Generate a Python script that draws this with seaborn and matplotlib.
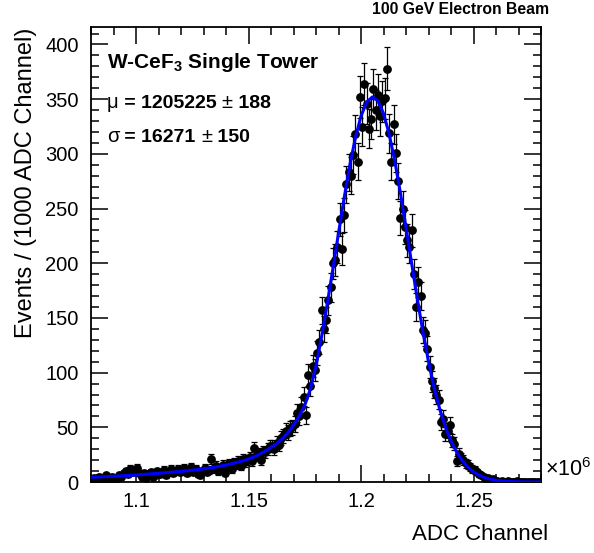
import numpy as np
import pandas as pd
import matplotlib
matplotlib.use("Agg")
import matplotlib.pyplot as plt
from matplotlib.ticker import MultipleLocator, FuncFormatter
import seaborn as sns

# ---------------- data ----------------
bin_lo = 1.080e6
bin_width = 1000.0
counts = [
    3, 4, 2, 5, 4, 3, 6, 4, 3, 5, 2, 4, 6, 5, 8, 10, 7, 12, 9, 11,
    13, 8, 5, 8, 4, 7, 9, 5, 6, 10, 7, 8, 11, 6, 9, 12, 8, 10, 12, 9,
    10, 13, 8, 11, 14, 9, 12, 7, 6, 10, 13, 9, 11, 21, 12, 15, 10, 13, 16, 8,
    14, 17, 12, 18, 16, 19, 15, 21, 18, 20, 23, 19, 31, 24, 26, 20, 28, 27, 30, 33,
    33, 30, 36, 34, 40, 42, 47, 45, 49, 50, 53, 63, 60, 69, 78, 61, 98, 88, 106, 102,
    118, 128, 157, 140, 148, 166, 178, 200, 203, 215, 240, 213, 244, 272, 283, 280, 299, 318, 293, 352,
    325, 364, 346, 323, 332, 359, 340, 354, 335, 348, 351, 378, 319, 293, 327, 301, 275, 241, 250, 233,
    221, 215, 230, 190, 160, 183, 170, 139, 136, 122, 105, 92, 86, 80, 75, 55, 58, 44, 47, 52,
    38, 35, 19, 26, 22, 20, 17, 16, 14, 12, 11, 9, 7, 6, 5, 3, 4, 2, 3, 1,
    1, 0, 1, 0, 0, 1, 0, 0, 0, 1, 0, 0, 0, 0, 0, 0, 0, 0, 0, 0,
]

fit_x_m = [1.0800 + 0.0025 * k for k in range(81)]  # in units of 1e6
fit_y = [
    4.3, 4.5, 4.8, 5.0, 5.3, 5.5, 5.8, 6.1, 6.4, 6.8,
    7.2, 7.6, 8.0, 8.4, 8.8, 9.2, 9.7, 10.2, 10.8, 11.4,
    12.0, 12.8, 13.6, 14.5, 15.5, 16.7, 18.0, 19.4, 21.0, 23.0,
    25.5, 28.3, 31.5, 35.0, 39.5, 45.0, 52.0, 60.0, 70.0, 85.0,
    106.0, 133.0, 162.9, 194.8, 227.5, 259.6, 289.2, 314.7, 334.5, 347.2,
    352.0, 348.5, 337.0, 318.3, 293.6, 264.5, 232.7, 200.0, 167.9, 137.6,
    110.2, 86.1, 66.5, 50.5, 37.5, 27.5, 19.5, 13.5, 9.2, 6.2,
    4.0, 2.6, 1.6, 1.0, 0.6, 0.35, 0.2, 0.12, 0.07, 0.04, 0.02,
]

title_right = "100 GeV Electron Beam"
label_tower = "W-CeF$_\\mathbf{3}$ Single Tower"
label_mu = ["\u03bc", " = 1205225 ", "\u00b1", " 188"]
label_sigma = ["\u03c3", " = 16271 ", "\u00b1", " 150"]
x_label = "ADC Channel"
y_label = "Events / (1000 ADC Channel)"

# ---------------- build frames ----------------
centers = bin_lo + bin_width * (np.arange(len(counts)) + 0.5)
df = pd.DataFrame({"x": centers, "n": counts})
df["err"] = np.sqrt(df["n"])
fit_df = pd.DataFrame({"x": np.array(fit_x_m) * 1e6, "y": fit_y})

# ---------------- style ----------------
sns.set_theme(style="ticks")
plt.rcParams["font.family"] = ["Liberation Sans", "DejaVu Sans"]
plt.rcParams["mathtext.fontset"] = "custom"
plt.rcParams["mathtext.rm"] = "Liberation Sans"
plt.rcParams["mathtext.bf"] = "Liberation Sans:bold"
for k in ["text.color", "axes.labelcolor", "xtick.color", "ytick.color", "axes.edgecolor"]:
    plt.rcParams[k] = "black"

fig = plt.figure(figsize=(5.94, 5.53), dpi=100)
ax = fig.add_axes([91 / 594, 1 - 482 / 553, (541 - 91) / 594, (482 - 27) / 553])

# error bars
ax.errorbar(df["x"], df["n"], yerr=df["err"], fmt="none", ecolor="black",
            elinewidth=0.9, capsize=2.0, capthick=0.9, zorder=2)
# points
sns.scatterplot(data=df, x="x", y="n", ax=ax, color="black", s=40,
                edgecolor="black", linewidth=0, zorder=3, legend=False)
# fit curve
sns.lineplot(data=fit_df, x="x", y="y", ax=ax, color="#0000ff", linewidth=2.2,
             zorder=4, legend=False)

ax.set_xlim(1.08e6, 1.28e6)
ax.set_ylim(0, 416)

ax.xaxis.set_major_locator(MultipleLocator(50000))
ax.xaxis.set_minor_locator(MultipleLocator(10000))
ax.yaxis.set_major_locator(MultipleLocator(50))
ax.yaxis.set_minor_locator(MultipleLocator(10))


def xfmt(v, pos):
    val = v / 1e6
    if abs(val - 1.08) < 1e-6 or abs(val - 1.28) < 1e-6:
        return ""
    return "%g" % round(val, 3)


ax.xaxis.set_major_formatter(FuncFormatter(xfmt))
ax.tick_params(which="both", direction="in", top=True, right=True,
               labelsize=14.5, width=1.1, colors="black")
ax.tick_params(axis="y", pad=9)
ax.tick_params(axis="x", pad=7)
ax.tick_params(which="major", length=12)
ax.tick_params(which="minor", length=6)
for sp in ax.spines.values():
    sp.set_linewidth(1.3)
    sp.set_color("black")
    sp.set_visible(True)

ax.set_xlabel("")
ax.set_ylabel("")
fig.text(548 / 594, 1 - 535 / 553, x_label, ha="right", va="center", fontsize=16)
fig.text(26 / 594, 1 - 28 / 553, y_label, ha="center", va="top", rotation=90, fontsize=17)
fig.text(549 / 594, 1 - 10 / 553, title_right, ha="right", va="center",
         fontsize=11.3, fontweight="bold")
fig.text(545 / 594, 1 - 470 / 553, "\u00d710$^{6}$", ha="left", va="center", fontsize=15.5)

fs_lab = 14
ax.text(107 / 594, 1 - 62 / 553, label_tower, transform=fig.transFigure,
        ha="left", va="center", fontsize=15, fontweight="bold")


def chain(parts, y):
    prev = ax.text(107 / 594, 1 - y / 553, parts[0], transform=fig.transFigure,
                   ha="left", va="baseline", fontsize=fs_lab + 0.5)
    for j, p in enumerate(parts[1:]):
        bold = (j % 2 == 0)
        prev = ax.annotate(p, xy=(1, 0), xycoords=prev, ha="left", va="bottom",
                           fontsize=fs_lab if bold else fs_lab + 0.5,
                           fontweight="bold" if bold else "normal")
    return prev


chain(label_mu, 108)
chain(label_sigma, 142)

fig.savefig("out.png", dpi=100)
